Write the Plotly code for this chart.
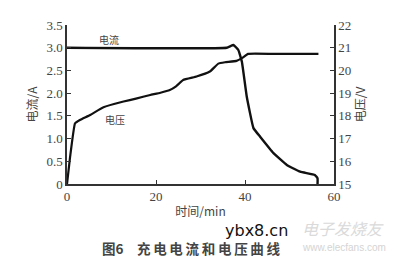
import plotly.graph_objects as go

# Data
time_current = [0, 35.9, 37.4, 38.5, 39.3, 40.4, 41.9, 43.4, 46.4, 49.4, 52.4, 55.7, 56.3, 56.3]
current = [3.0, 3.0, 3.06, 2.95, 2.69, 1.92, 1.23, 1.04, 0.68, 0.42, 0.27, 0.2, 0.125, 0.0]

time_voltage = [0, 0.7, 1.8, 2.9, 5.2, 8.2, 12.7, 15.5, 18.7, 21, 23.1, 24.5, 26.1, 29.1,
                32.1, 34.0, 35.5, 38.1, 39.3, 40.7, 46.4, 56.5]
voltage = [15.0, 16.2, 17.67, 17.82, 18.04, 18.38, 18.63, 18.76, 18.92, 19.02, 19.14, 19.3,
           19.58, 19.73, 19.95, 20.3, 20.36, 20.42, 20.54, 20.73, 20.73, 20.73]

x_ticks = [0, 20, 40, 60]
left_ticks = [0, 0.5, 1.0, 1.5, 2.0, 2.5, 3.0, 3.5]
left_labels = ["0", "0.5", "1.0", "1.5", "2.0", "2.5", "3.0", "3.5"]
right_ticks = [15, 16, 17, 18, 19, 20, 21, 22]

serif = "Liberation Serif, Times New Roman, serif"
cjk = "Noto Sans CJK SC, sans-serif"
axcol = "#333333"

fig = go.Figure()
fig.add_trace(go.Scatter(x=time_current, y=current, mode="lines",
                         line=dict(color="#111111", width=2.4, shape="spline", smoothing=0.3),
                         showlegend=False, hoverinfo="skip"))
fig.add_trace(go.Scatter(x=time_voltage, y=voltage, mode="lines", yaxis="y2",
                         line=dict(color="#111111", width=2.2, shape="spline", smoothing=0.3),
                         showlegend=False, hoverinfo="skip"))

fig.update_layout(
    width=405, height=264,
    margin=dict(l=67, r=71, t=25, b=80),
    paper_bgcolor="white", plot_bgcolor="white",
    xaxis=dict(range=[0, 60], tickvals=x_ticks, ticks="inside", ticklen=4, tickwidth=1,
               tickcolor=axcol, showline=True, linecolor=axcol, linewidth=1.5,
               showgrid=False, zeroline=False,
               tickfont=dict(family=serif, size=13, color="#444"),
               title=dict(text="时间/min", font=dict(family=cjk, size=12, color="#444"), standoff=4)),
    yaxis=dict(range=[0, 3.5], tickvals=left_ticks, ticktext=left_labels, ticks="inside",
               ticklen=4, tickwidth=1, tickcolor=axcol, showline=True, linecolor=axcol,
               linewidth=1.5, showgrid=False, zeroline=False,
               tickfont=dict(family=serif, size=13, color="#444"),
               title=dict(text="电流/A", font=dict(family=cjk, size=12, color="#444"), standoff=6)),
    yaxis2=dict(range=[15, 22], tickvals=right_ticks, overlaying="y", side="right",
                ticks="inside", ticklen=4, tickwidth=1, tickcolor=axcol, showline=True,
                linecolor=axcol, linewidth=1.5, showgrid=False, zeroline=False,
                tickfont=dict(family=serif, size=13, color="#444"),
                title=dict(text="电压/V", font=dict(family=cjk, size=12, color="#444"), standoff=6)),
)

ts = "\u2009"
caption = "图6" + "\u2003" + ts.join("充电电流和电压曲线")

fig.add_annotation(x=9.5, y=3.0, text="电流", showarrow=False, yshift=8,
                   font=dict(family=cjk, size=10, color="#444"))
fig.add_annotation(x=10.8, y=17.86, yref="y2", text="电压", showarrow=False,
                   font=dict(family=cjk, size=10, color="#444"))
fig.add_annotation(x=(100 - 67) / 267, y=-0.405, xref="paper", yref="paper",
                   text="<b>" + caption + "</b>",
                   showarrow=False, xanchor="left", yanchor="middle",
                   font=dict(family=cjk, size=13.5, color="#444"))
fig.add_annotation(x=(290 - 67) / 267, y=-0.292, xref="paper", yref="paper", text="ybx8.cn",
                   showarrow=False, xanchor="right", yanchor="middle",
                   font=dict(family="DejaVu Sans, sans-serif", size=16, color="#111"))
fig.add_annotation(x=(300 - 67) / 267, y=-0.277, xref="paper", yref="paper", text="<i>电子发烧友</i>",
                   showarrow=False, xanchor="left", yanchor="middle",
                   font=dict(family=cjk, size=16, color="#dadada"))
fig.add_annotation(x=(300 - 67) / 267, y=-0.40, xref="paper", yref="paper", text="www.elecfans.com",
                   showarrow=False, xanchor="left", yanchor="middle",
                   font=dict(family="Liberation Sans, sans-serif", size=10, color="#d4d4d4"))

fig.write_html("out.html")
